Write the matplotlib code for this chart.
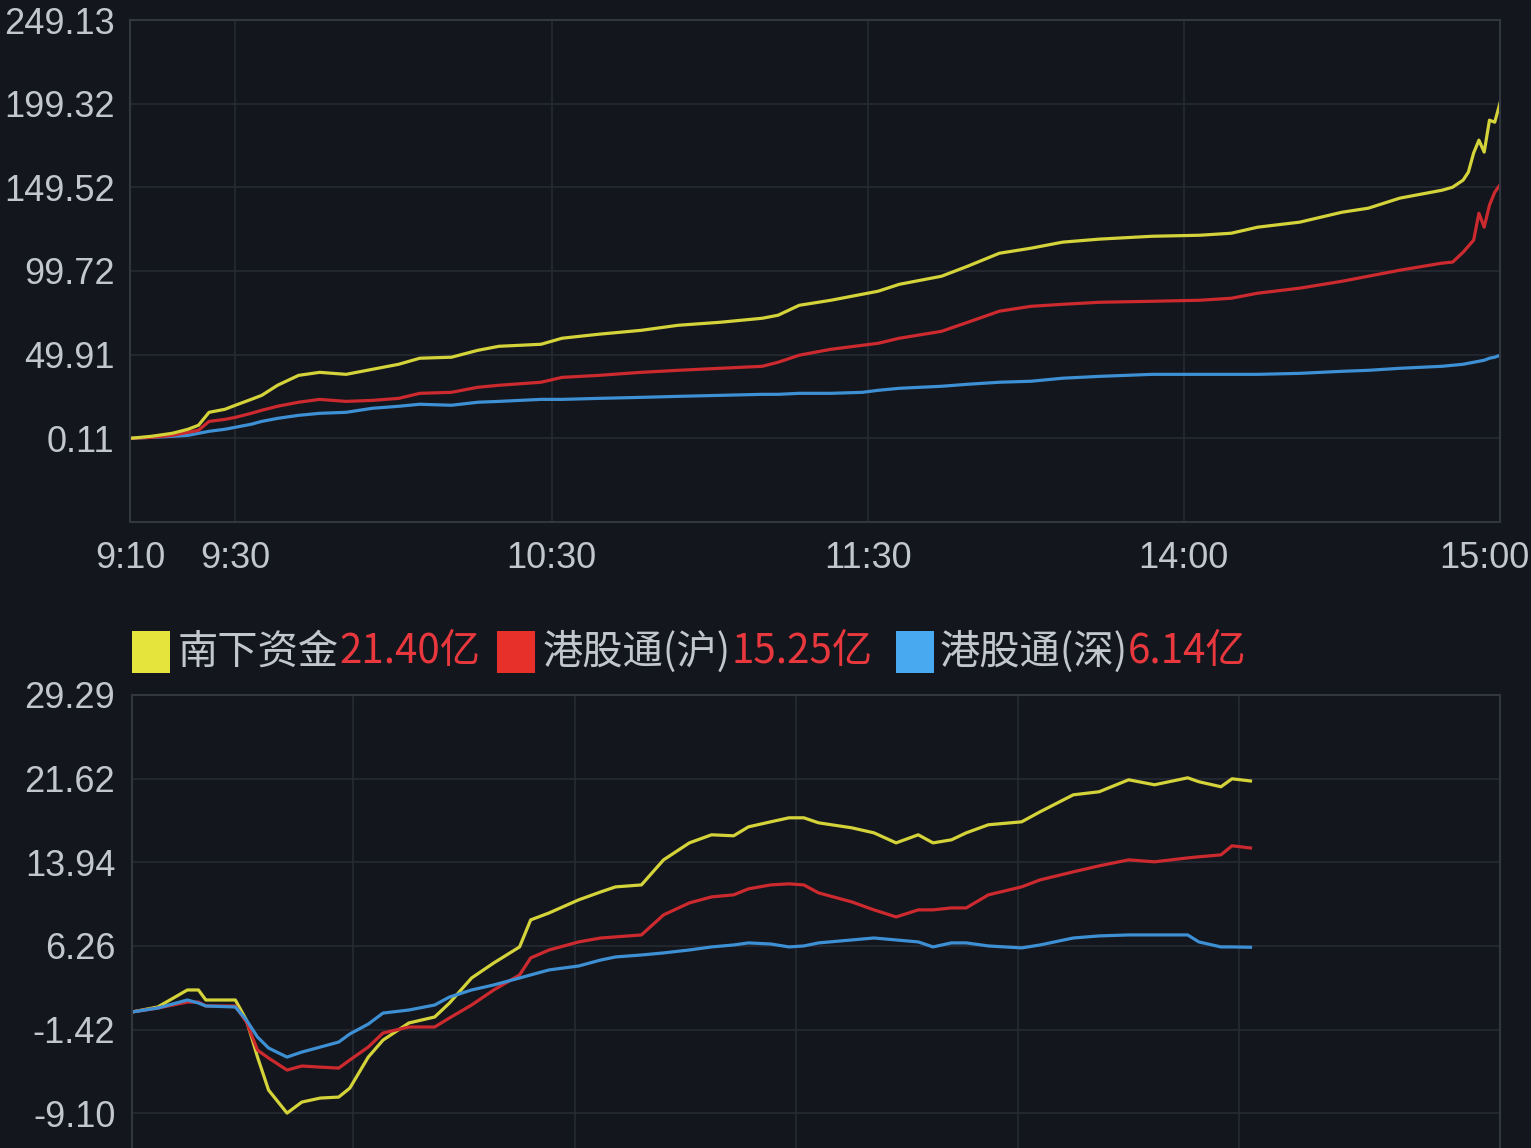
import matplotlib
matplotlib.use('Agg')
import matplotlib.pyplot as plt
from matplotlib.patches import Rectangle
from matplotlib.transforms import ScaledTranslation

plt.rcParams['font.family'] = ['Liberation Sans', 'Noto Sans CJK SC', 'DejaVu Sans']

# top panel: minutes after 9:10 (axis labels evenly spaced)
top_t = [0, 4, 8, 11, 13, 15, 18, 20, 23, 25,
         28, 32, 36, 41, 46, 51, 55, 61, 66, 70,
         78, 82, 89, 97, 104, 112, 120, 123, 127, 133,
         139, 142, 146, 154, 159, 165, 171, 177, 184, 194,
         203, 209, 214, 222, 230, 235, 241, 249, 251, 253,
         254, 255, 256, 257, 258, 259, 260]
top_south = [0.11, 1.3, 3.1, 5.5, 7.9, 15.6, 17.4, 19.8, 23.3, 25.7,
             31.7, 37.6, 39.4, 38.2, 41.2, 44.2, 47.8, 48.4, 52.5, 54.9,
             56.1, 59.7, 62.1, 64.4, 67.4, 69.2, 71.6, 73.4, 79.3, 82.3,
             85.9, 87.7, 91.8, 96.6, 102.6, 110.3, 113.3, 116.9, 118.7, 120.4,
             121.0, 122.2, 125.8, 128.8, 134.7, 137.1, 143.1, 147.8, 149.6, 153.8,
             158.6, 170.0, 177.6, 170.5, 189.5, 188.3, 199.7]
top_sh = [0.11, 0.7, 1.9, 3.7, 4.9, 10.2, 11.4, 12.6, 15.0, 16.8,
          19.2, 21.6, 23.3, 22.1, 22.7, 23.9, 26.9, 27.5, 30.5, 31.7,
          33.5, 36.4, 37.6, 39.4, 40.6, 41.8, 43.0, 45.4, 49.6, 53.1,
          55.5, 56.7, 59.7, 63.8, 69.2, 75.8, 78.7, 79.9, 81.1, 81.7,
          82.3, 83.5, 86.5, 89.5, 93.6, 96.6, 100.2, 104.4, 105.0, 110.9,
          114.5, 118.1, 134.1, 125.8, 138.9, 146.6, 151.0]
top_sz = [0.11, 0.7, 1.3, 1.9, 3.1, 4.3, 5.5, 6.7, 8.5, 10.2,
          12.0, 13.8, 15.0, 15.6, 18.0, 19.2, 20.4, 19.8, 21.6, 22.1,
          23.3, 23.3, 23.9, 24.5, 25.1, 25.7, 26.3, 26.3, 26.9, 26.9,
          27.5, 28.7, 29.9, 31.1, 32.3, 33.5, 34.1, 35.9, 37.0, 38.2,
          38.2, 38.2, 38.2, 38.8, 40.0, 40.6, 41.8, 43.0, 43.6, 44.2,
          44.8, 45.4, 46.0, 46.6, 47.8, 48.4, 49.6]
top_yticks = [0.11, 49.91, 99.72, 149.52, 199.32, 249.13]
top_xticks = [0, 20, 80, 140, 200, 260]
top_xlabels = ['9:10', '9:30', '10:30', '11:30', '14:00', '15:00']

# bottom panel: net inflow (亿)
bot_t = [0, 7, 15, 18, 20, 28, 31, 34, 37, 42,
         46, 51, 56, 59, 64, 68, 75, 82, 86, 92,
         98, 105, 108, 113, 121, 127, 131, 138, 144, 151,
         157, 163, 167, 173, 178, 182, 186, 195, 201, 207,
         213, 217, 222, 226, 232, 241, 246, 255, 262, 270,
         277, 286, 289, 295, 298, 303]
bot_south = [0.20, 0.66, 2.22, 2.22, 1.30, 1.30, -0.54, -3.94, -6.97, -9.08,
             -8.07, -7.70, -7.61, -6.79, -3.94, -2.38, -0.81, -0.26, 1.02, 3.32,
             4.70, 6.17, 8.65, 9.29, 10.49, 11.22, 11.68, 11.86, 14.16, 15.72,
             16.46, 16.37, 17.19, 17.65, 18.02, 18.02, 17.56, 17.10, 16.64, 15.72,
             16.46, 15.72, 16.00, 16.64, 17.38, 17.65, 18.57, 20.13, 20.41, 21.51,
             21.05, 21.69, 21.33, 20.87, 21.60, 21.40]
bot_sh = [0.20, 0.56, 1.11, 1.11, 0.75, 0.75, -0.72, -3.30, -4.03, -5.13,
          -4.76, -4.86, -4.95, -4.21, -3.02, -1.73, -1.18, -1.18, -0.35, 0.84,
          2.22, 3.60, 5.16, 5.89, 6.63, 6.99, 7.09, 7.27, 9.11, 10.21,
          10.76, 10.95, 11.50, 11.86, 11.96, 11.86, 11.13, 10.30, 9.57, 8.92,
          9.57, 9.57, 9.75, 9.75, 10.95, 11.68, 12.32, 13.06, 13.61, 14.16,
          13.98, 14.34, 14.44, 14.62, 15.45, 15.25]
bot_sz = [0.20, 0.56, 1.30, 1.02, 0.75, 0.66, -0.54, -2.10, -3.11, -3.94,
          -3.48, -3.02, -2.56, -1.82, -0.91, 0.10, 0.38, 0.84, 1.57, 2.22,
          2.68, 3.32, 3.60, 4.06, 4.42, 4.97, 5.25, 5.43, 5.62, 5.89,
          6.17, 6.35, 6.54, 6.44, 6.17, 6.26, 6.54, 6.81, 6.99, 6.81,
          6.63, 6.17, 6.54, 6.54, 6.26, 6.08, 6.35, 6.99, 7.18, 7.27,
          7.27, 7.27, 6.63, 6.17, 6.17, 6.14]
bot_yticks = [-9.10, -1.42, 6.26, 13.94, 21.62, 29.29]
bot_grid = [60, 120, 180, 240, 300]

names = ['南下资金', '港股通(沪)', '港股通(深)']
latest = ['21.40亿', '15.25亿', '6.14亿']

bg = '#14161e'
grid_c = '#262a33'
spine_c = '#32363f'
label_c = '#c2c6cd'
line_colors = ['#d4d43a', '#cc2a2e', '#3e90d4']
box_colors = ['#e4e43c', '#e8302a', '#48a8f0']

fig = plt.figure(figsize=(15.31, 11.48), dpi=100, facecolor=bg)

# ---- top panel
ax1 = fig.add_axes([130 / 1531, 626 / 1148, 1370 / 1531, 502 / 1148])
ax1.set_facecolor(bg)
for ys, c in zip([top_sz, top_sh, top_south], line_colors[::-1]):
    ax1.plot(top_t, ys, color=c, lw=2.3)
ax1.set_xlim(0, 260)
ax1.set_ylim(-49.69, 249.13)
ax1.set_yticks(top_yticks)
ax1.set_yticklabels(['%.2f' % v for v in top_yticks])
ax1.set_xticks(top_xticks)
ax1.set_xticklabels(top_xlabels)
ax1.grid(True, color=grid_c, lw=1.2)
ax1.tick_params(length=0, labelsize=26, colors=label_c, pad=11)
ax1.tick_params(axis='x', pad=14)
for s in ax1.spines.values():
    s.set_color(spine_c)
    s.set_linewidth(1.5)
# last time label sits at the right edge; nudge it inside the canvas
last = ax1.get_xticklabels()[-1]
last.set_transform(last.get_transform() + ScaledTranslation(-0.16, 0, fig.dpi_scale_trans))

# ---- bottom panel (runs past the bottom edge)
ax2 = fig.add_axes([132 / 1531, -49 / 1148, 1368 / 1531, 502 / 1148])
ax2.set_facecolor(bg)
ax2.plot(bot_t, bot_south, color=line_colors[0], lw=2.3)
ax2.plot(bot_t, bot_sh, color=line_colors[1], lw=2.3)
ax2.plot(bot_t, bot_sz, color=line_colors[2], lw=2.3)
ax2.set_xlim(0, 370.6)
ax2.set_ylim(-16.78, 29.29)
ax2.set_yticks(bot_yticks)
ax2.set_yticklabels(['%.2f' % v for v in bot_yticks])
ax2.set_xticks(bot_grid)
ax2.grid(True, color=grid_c, lw=1.2)
ax2.tick_params(length=0, labelsize=26, colors=label_c, pad=12, labelbottom=False)
for s in ax2.spines.values():
    s.set_color(spine_c)
    s.set_linewidth(1.5)

# ---- legend row
box_x = [132, 497, 896]
name_x = [178, 543, 940]
ly = 1148 - 652
for i in range(3):
    fig.patches.append(Rectangle((box_x[i] / 1531, (ly - 21) / 1148), 38 / 1531, 42 / 1148,
                                 transform=fig.transFigure, facecolor=box_colors[i],
                                 edgecolor='none'))
    t = fig.text(name_x[i] / 1531, ly / 1148, names[i], ha='left', va='center',
                 fontsize=29, color=label_c, family=['Noto Sans CJK SC', 'DejaVu Sans'])
    ax1.annotate(latest[i], xy=(1, 0.5), xycoords=t, ha='left', va='center',
                 fontsize=29, color='#e8383d', family=['Noto Sans CJK SC', 'DejaVu Sans'],
                 annotation_clip=False)

fig.savefig('out.png', dpi=100, facecolor=bg)
